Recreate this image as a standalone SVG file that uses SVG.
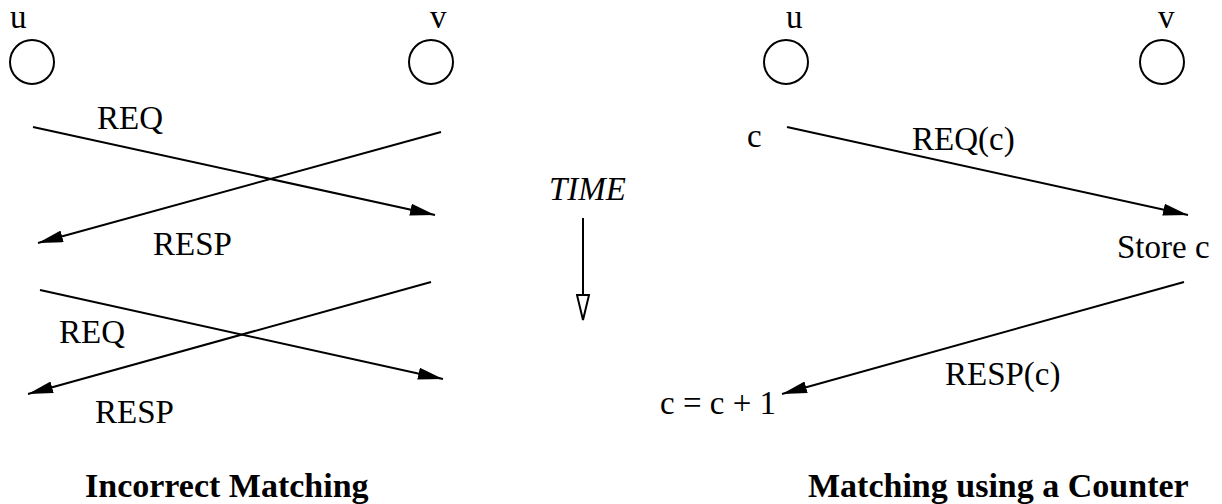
<svg xmlns="http://www.w3.org/2000/svg" width="1222" height="504" viewBox="0 0 1222 504">
<style>
text{font-family:"Liberation Serif","Times New Roman",serif;font-size:33px;fill:#000}
.b{font-weight:bold;font-size:34px}
.i{font-style:italic}
circle{fill:none;stroke:#000;stroke-width:2}
line{stroke:#000;stroke-width:2}
</style>
<defs>
<marker id="ah" markerUnits="userSpaceOnUse" viewBox="0 0 25 12" markerWidth="25" markerHeight="12" refX="25" refY="6" orient="auto"><path d="M0,0 L25,6 L0,12 z" fill="#000"/></marker>
<marker id="oh" markerUnits="userSpaceOnUse" viewBox="-1 -1 27 14" markerWidth="27" markerHeight="14" refX="0" refY="6" orient="auto"><path d="M0,0 L25,6 L0,12 z" fill="#fff" stroke="#000" stroke-width="2"/></marker>
</defs>
<g id="u1"><circle cx="32" cy="62" r="22"/><text x="10" y="28">u</text></g>
<g id="v1"><circle cx="431" cy="62" r="22"/><text x="430" y="28">v</text></g>
<g id="u2"><circle cx="786" cy="62" r="22"/><text x="786" y="28">u</text></g>
<g id="v2"><circle cx="1162" cy="62" r="22"/><text x="1158" y="28">v</text></g>
<g id="connectors">
<line x1="33" y1="127" x2="435" y2="215" marker-end="url(#ah)"/>
<line x1="441" y1="132" x2="38" y2="243" marker-end="url(#ah)"/>
<line x1="40" y1="290" x2="443" y2="379" marker-end="url(#ah)"/>
<line x1="431" y1="282" x2="28" y2="394" marker-end="url(#ah)"/>
<line x1="583" y1="218" x2="583" y2="295" marker-end="url(#oh)"/>
<line x1="787" y1="127" x2="1188" y2="215" marker-end="url(#ah)"/>
<line x1="1184" y1="282" x2="782" y2="394" marker-end="url(#ah)"/>
</g>
<g id="labels">
<text x="97" y="129">REQ</text>
<text x="153" y="255">RESP</text>
<text x="59" y="343">REQ</text>
<text x="95" y="423">RESP</text>
<text class="i" x="549" y="200">TIME</text>
<text x="747" y="147">c</text>
<text x="912" y="150">REQ(c)</text>
<text x="1117" y="258">Store c</text>
<text x="945" y="385">RESP(c)</text>
<text x="660" y="414">c = c + 1</text>
<text class="b" x="85" y="497">Incorrect Matching</text>
<text class="b" x="808" y="497">Matching using a Counter</text>
</g>
</svg>
